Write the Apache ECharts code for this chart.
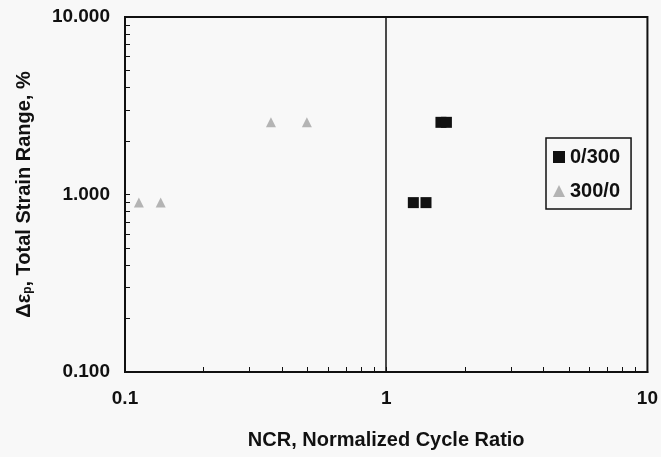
<!DOCTYPE html>
<html>
<head>
<meta charset="utf-8">
<script src="https://cdn.jsdelivr.net/npm/echarts@6/dist/echarts.min.js"></script>
<style>
  html, body { margin: 0; padding: 0; background: #f8f8f8; }
  #main { width: 661px; height: 457px; }
</style>
</head>
<body>
<div id="main"></div>
<script>
// NCR vs total strain range
const sq0300 = [[1.27, 0.9], [1.42, 0.9], [1.62, 2.55], [1.70, 2.55]];
const tri3000 = [[0.113, 0.9], [0.137, 0.9], [0.362, 2.55], [0.497, 2.55]];
const seriesNames = ['0/300', '300/0'];
const refLineX = 1;
// minor tick positions (2..9 in each decade)
const xMinor = [0.2, 0.3, 0.4, 0.5, 0.6, 0.7, 0.8, 0.9, 2, 3, 4, 5, 6, 7, 8, 9];
const yMinor = [0.2, 0.3, 0.4, 0.5, 0.6, 0.7, 0.8, 0.9, 2, 3, 4, 5, 6, 7, 8, 9];

const font = 'Liberation Sans, Arial, sans-serif';
const chart = echarts.init(document.getElementById('main'));

// helper axes in log10 space, only used to draw the 2..9 minor ticks
const minorAxis = (pos, vals) => ({
  type: 'value', min: -1, max: 1, position: pos,
  axisLine: { show: false, onZero: false },
  axisLabel: { show: false },
  splitLine: { show: false },
  axisTick: { inside: true, length: 5, lineStyle: { color: '#111' }, customValues: vals.map(Math.log10) }
});

chart.setOption({
  backgroundColor: '#f8f8f8',
  animation: false,
  grid: {
    left: 125, right: 10, top: 17, bottom: 85,
    show: true, borderColor: '#111', borderWidth: 2, backgroundColor: 'transparent'
  },
  legend: {
    orient: 'vertical',
    left: 546, top: 138,
    padding: [9, 11, 8, 7],
    itemGap: 14,
    itemWidth: 12, itemHeight: 12,
    borderColor: '#111', borderWidth: 1.5,
    textStyle: { fontFamily: font, fontSize: 20, color: '#111', fontWeight: 'bold' },
    data: seriesNames
  },
  xAxis: [{
    type: 'log', logBase: 10, min: 0.1, max: 10,
    name: 'NCR, Normalized Cycle Ratio',
    nameLocation: 'middle', nameGap: 58,
    nameTextStyle: { fontFamily: font, fontSize: 20, fontWeight: 'bold', color: '#111' },
    axisLine: { onZero: false, lineStyle: { color: '#111', width: 2 } },
    axisTick: { inside: true, length: 5, lineStyle: { color: '#111' } },
    axisLabel: { fontFamily: font, fontSize: 19, fontWeight: 'bold', color: '#111', margin: 17, formatter: v => String(v) },
    splitLine: { show: false }
  }, minorAxis('bottom', xMinor)],
  yAxis: [{
    type: 'log', logBase: 10, min: 0.1, max: 10,
    name: '{a|Δε}{s|p}{a|, Total Strain Range, %}',
    nameLocation: 'middle', nameGap: 91,
    nameTextStyle: {
      rich: {
        a: { fontFamily: font, fontSize: 20, fontWeight: 'bold', color: '#111' },
        s: { fontFamily: font, fontSize: 12, fontWeight: 'bold', color: '#111', verticalAlign: 'bottom', padding: [7, 0, 0, 0] }
      }
    },
    axisLine: { onZero: false, lineStyle: { color: '#111', width: 2 } },
    axisTick: { inside: true, length: 5, lineStyle: { color: '#111' } },
    axisLabel: { fontFamily: font, fontSize: 19, fontWeight: 'bold', color: '#111', margin: 15, formatter: v => v.toFixed(3) },
    splitLine: { show: false }
  }, minorAxis('left', yMinor)],
  series: [{
    name: seriesNames[0],
    type: 'scatter',
    symbol: 'rect', symbolSize: 11,
    itemStyle: { color: '#111', opacity: 1 },
    data: sq0300,
    markLine: {
      silent: true, symbol: 'none',
      label: { show: false },
      lineStyle: { color: '#111', width: 1.5, type: 'solid' },
      data: [{ xAxis: refLineX }]
    }
  }, {
    name: seriesNames[1],
    type: 'scatter',
    symbol: 'triangle', symbolSize: 10,
    itemStyle: { color: '#b4b4b4', opacity: 1 },
    data: tri3000
  }]
});
</script>
</body>
</html>
